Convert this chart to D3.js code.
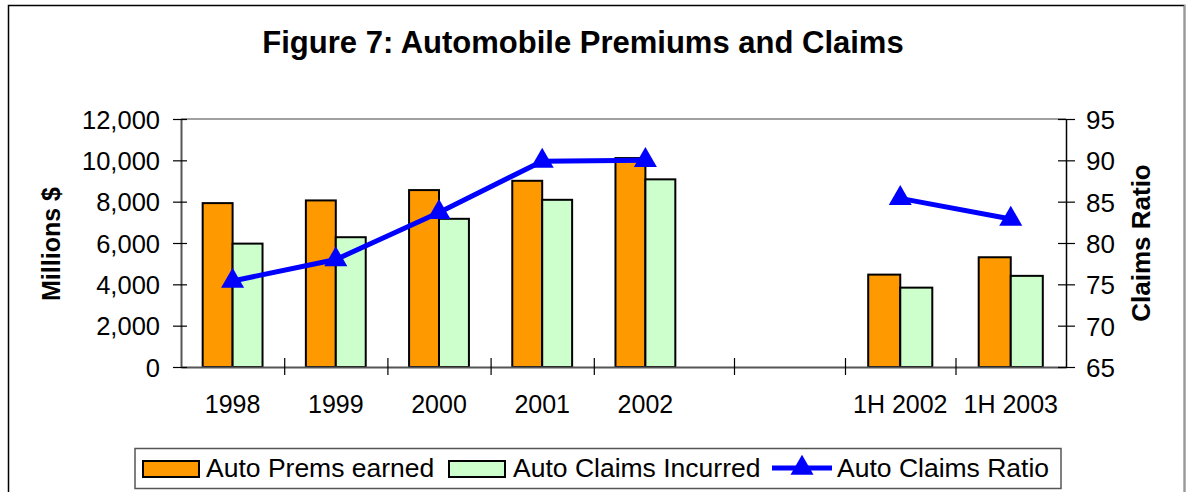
<!DOCTYPE html>
<html>
<head>
<meta charset="utf-8">
<script src="https://cdn.jsdelivr.net/npm/d3@7"></script>
<style>
  body { margin: 0; background: #fff; }
  svg text { font-family: "Liberation Sans", Arial, sans-serif; fill: #000; }
</style>
</head>
<body>
<div id="chart"></div>
<script>
// categories (the empty one is the gap between the annual and half-year figures)
var categories = ["1998", "1999", "2000", "2001", "2002", "", "1H 2002", "1H 2003"];
var premsEarned = [7930, 8060, 8560, 9010, 10110, null, 4470, 5310];
var claimsIncurred = [5970, 6280, 7170, 8090, 9080, null, 3840, 4410];
var claimsRatio = [75.4, 78.0, 83.7, 89.9, 90.0, null, 85.4, 82.9];
var leftTicks = [0, 2000, 4000, 6000, 8000, 10000, 12000];
var rightTicks = [65, 70, 75, 80, 85, 90, 95];
var seriesNames = ["Auto Prems earned", "Auto Claims Incurred", "Auto Claims Ratio"];

var width = 1187, height = 492;
var margin = {top: 119, right: 121, bottom: 125, left: 181};
var w = width - margin.left - margin.right;
var h = height - margin.top - margin.bottom;
var barW = 0.29;

var svg = d3.select("#chart").append("svg")
    .attr("width", width)
    .attr("height", height);

// outer frame
svg.append("rect")
    .attr("x", 8.5).attr("y", 5.5)
    .attr("width", 1176).attr("height", 495)
    .attr("fill", "none").attr("stroke", "#000").attr("stroke-width", 1.5);
svg.append("line")
    .attr("x1", 1184.5).attr("x2", 1184.5).attr("y1", 5).attr("y2", 492)
    .attr("stroke", "#999").attr("stroke-width", 1.5);

svg.append("text")
    .attr("x", 583).attr("y", 53)
    .attr("text-anchor", "middle")
    .attr("font-size", "31px").attr("font-weight", "bold")
    .text("Figure 7: Automobile Premiums and Claims");

var g = svg.append("g").attr("transform", "translate(" + margin.left + "," + margin.top + ")");

// the annual part and the half-year part are spaced differently, so a piecewise scale
var x = d3.scaleLinear()
    .domain([0, 5, 6, 8])
    .range([0, 516, 664, w]);
var y = d3.scaleLinear().domain([0, 12000]).range([h, 0]);
var y2 = d3.scaleLinear().domain([65, 95]).range([h, 0]);

// plot area top border
g.append("line")
    .attr("x1", 0).attr("x2", w).attr("y1", 0).attr("y2", 0)
    .attr("stroke", "#808080").attr("stroke-width", 1.5);

// bars
var idx = d3.range(categories.length).filter(function(i) { return premsEarned[i] != null; });

g.selectAll("rect.prem")
    .data(idx)
    .enter()
    .append("rect")
    .attr("class", "prem")
    .attr("x", function(i) { return x(i + 0.5 - barW); })
    .attr("y", function(i) { return y(premsEarned[i]); })
    .attr("width", function(i) { return x(i + 0.5) - x(i + 0.5 - barW); })
    .attr("height", function(i) { return h - y(premsEarned[i]); })
    .attr("fill", "#FF9900").attr("stroke", "#000").attr("stroke-width", 2);

g.selectAll("rect.claim")
    .data(idx)
    .enter()
    .append("rect")
    .attr("class", "claim")
    .attr("x", function(i) { return x(i + 0.5); })
    .attr("y", function(i) { return y(claimsIncurred[i]); })
    .attr("width", function(i) { return x(i + 0.5 + barW) - x(i + 0.5); })
    .attr("height", function(i) { return h - y(claimsIncurred[i]); })
    .attr("fill", "#CCFFCC").attr("stroke", "#000").attr("stroke-width", 2);

// x axis
var xAxis = d3.axisBottom(x)
    .tickValues([1, 2, 3, 4, 5.25, 6, 7])
    .tickSize(0)
    .tickFormat("");
var gx = g.append("g").attr("transform", "translate(0," + h + ")").call(xAxis);
gx.select(".domain").attr("stroke", "#555").attr("stroke-width", 2);
gx.selectAll(".tick line").attr("y1", -9).attr("y2", 8).attr("stroke", "#000").attr("stroke-width", 1.2);

g.selectAll("text.cat")
    .data(idx)
    .enter()
    .append("text")
    .attr("class", "cat")
    .attr("x", function(i) { return x(i + 0.5); })
    .attr("y", h + 46)
    .attr("text-anchor", "middle")
    .attr("font-size", "25px")
    .text(function(i) { return categories[i]; });

// left axis
var gl = g.append("g").call(d3.axisLeft(y).tickValues(leftTicks).tickSize(0).tickFormat(d3.format(",")));
gl.select(".domain").attr("stroke", "#555").attr("stroke-width", 2);
gl.selectAll(".tick line").attr("x1", -8).attr("x2", 6).attr("stroke", "#000").attr("stroke-width", 1.2);
gl.selectAll(".tick text").attr("x", -21).attr("dy", "0.36em")
    .attr("font-size", "25.5px").attr("font-family", null).attr("fill", "#000");

// right axis
var gr = g.append("g").attr("transform", "translate(" + w + ",0)")
    .call(d3.axisRight(y2).tickValues(rightTicks).tickSize(0));
gr.select(".domain").attr("stroke", "#000").attr("stroke-width", 1.5);
gr.selectAll(".tick line").attr("x1", -8).attr("x2", 9).attr("stroke", "#000").attr("stroke-width", 1.2);
gr.selectAll(".tick text").attr("x", 20).attr("dy", "0.36em")
    .attr("font-size", "26px").attr("font-family", null).attr("fill", "#000");

// axis titles
svg.append("text")
    .attr("transform", "translate(60,244) rotate(-90)")
    .attr("text-anchor", "middle")
    .attr("font-size", "25px").attr("font-weight", "bold")
    .text("Millions $");
svg.append("text")
    .attr("transform", "translate(1150,243) rotate(-90)")
    .attr("text-anchor", "middle")
    .attr("font-size", "26px").attr("font-weight", "bold")
    .text("Claims Ratio");

// claims ratio line
var line = d3.line()
    .defined(function(d) { return d != null; })
    .x(function(d, i) { return x(i + 0.5); })
    .y(function(d) { return y2(d); });

g.append("path")
    .datum(claimsRatio)
    .attr("d", line)
    .attr("fill", "none").attr("stroke", "#0000FF").attr("stroke-width", 5);

var tri = d3.symbol().type(d3.symbolTriangle).size(230);
g.selectAll("path.marker")
    .data(idx)
    .enter()
    .append("path")
    .attr("class", "marker")
    .attr("d", tri)
    .attr("transform", function(i) { return "translate(" + x(i + 0.5) + "," + y2(claimsRatio[i]) + ")"; })
    .attr("fill", "#0000FF");

// legend
var lg = svg.append("g");
lg.append("rect")
    .attr("x", 135).attr("y", 448.5).attr("width", 926).attr("height", 40)
    .attr("fill", "#fff").attr("stroke", "#555").attr("stroke-width", 1.5);

var legendX = [143, 449, 772];
var legendTextX = [206, 513, 837];
var fills = ["#FF9900", "#CCFFCC"];

lg.selectAll("rect.sw")
    .data([0, 1])
    .enter()
    .append("rect")
    .attr("class", "sw")
    .attr("x", function(d) { return legendX[d]; })
    .attr("y", 461)
    .attr("width", 56).attr("height", 16)
    .attr("fill", function(d) { return fills[d]; })
    .attr("stroke", "#000").attr("stroke-width", 2);

lg.append("line")
    .attr("x1", legendX[2]).attr("x2", legendX[2] + 60)
    .attr("y1", 468).attr("y2", 468)
    .attr("stroke", "#0000FF").attr("stroke-width", 5);
lg.append("path")
    .attr("d", tri)
    .attr("transform", "translate(" + (legendX[2] + 30) + ",468)")
    .attr("fill", "#0000FF");

lg.selectAll("text")
    .data(seriesNames)
    .enter()
    .append("text")
    .attr("x", function(d, i) { return legendTextX[i]; })
    .attr("y", 477)
    .attr("font-size", "26.5px")
    .text(function(d) { return d; });
</script>
</body>
</html>
